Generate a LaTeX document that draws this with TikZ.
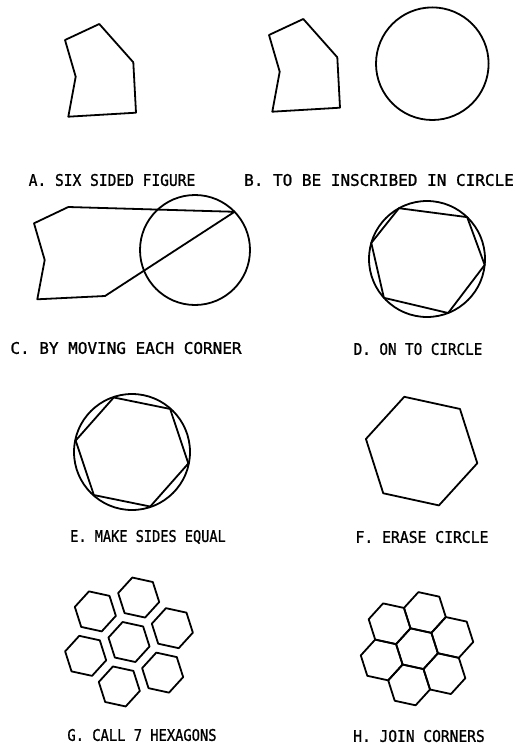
\documentclass[tikz,border=0pt]{standalone}
\usepackage{fontspec}
\newfontfamily\plotfont[FakeBold=1.2]{DejaVu Sans Mono}
\newcommand\hexat[4]{% cx cy r rot
  \draw[fig] ({#1+#3*cos(#4)},{#2-#3*sin(#4)})
    \foreach \k in {1,...,5}{ -- ({#1+#3*cos(#4+60*\k)},{#2-#3*sin(#4+60*\k)}) } -- cycle;}
\newcommand\cluster[5]{% cx cy spacing r rot
  \hexat{#1}{#2}{#4}{#5}
  \foreach \j in {0,...,5}{
    \hexat{#1+#3*cos(#5+30+60*\j)}{#2-#3*sin(#5+30+60*\j)}{#4}{#5}
  }}
\newcommand\sq[2]{\scalebox{#1}[1]{#2}}
\begin{document}
\begin{tikzpicture}[x=1pt,y=-1pt,
  fig/.style={line width=1.8pt, line join=round, line cap=round},
  lbl/.style={font=\plotfont\fontsize{16}{16}\selectfont, inner sep=0pt}]
\useasboundingbox (0,0) rectangle (516,749);
% A
\draw[fig] (65,40) -- (99.3,24) -- (133.3,62.3) -- (136,112.7) -- (68.3,116.7) -- (75.7,76.7) -- cycle;
% B
\draw[fig] (269,35) -- (303.3,19) -- (337.3,57.3) -- (340,107.7) -- (272.3,111.7) -- (279.7,71.7) -- cycle;
\draw[fig] (432.3,63.7) circle[radius=56.3pt];
% C
\draw[fig] (195,250) circle[radius=55pt];
\draw[fig] (34,223.3) -- (68.3,207) -- ({195+55*cos(44)},{250-55*sin(44)}) -- (105,296) -- (37.3,299.3) -- (44.7,260) -- cycle;
% D
\draw[fig] (427,259) circle[radius=58pt];
\draw[fig] ({427+58*cos(118.9)},{259-58*sin(118.9)})
  -- ({427+58*cos(46.2)},{259-58*sin(46.2)})
  -- ({427+58*cos(-5.9)},{259-58*sin(-5.9)})
  -- ({427+58*cos(-68.6)},{259-58*sin(-68.6)})
  -- ({427+58*cos(-138)},{259-58*sin(-138)})
  -- ({427+58*cos(163.9)},{259-58*sin(163.9)}) -- cycle;
% E
\draw[fig] (132,452) circle[radius=58pt];
\hexat{132}{452}{57.5}{-11.5}
% F
\hexat{421.6}{451.1}{57}{-12.3}
% G
\cluster{129}{642}{45.5}{21}{-12.3}
% H
\cluster{417}{648.7}{37.06}{21.4}{-12.3}
% labels
\node[lbl] (la) at (112,180) {\sq{0.91}{A. SIX SIDED FIGURE}};
\node[lbl] (lb) at (379,180) {B. TO BE INSCRIBED IN CIRCLE};
\node[lbl] (lc) at (126,348) {C. BY MOVING EACH CORNER};
\node[lbl] (ld) at (418,349) {\sq{0.89}{D. ON TO CIRCLE}};
\node[lbl] (le) at (148,537) {\sq{0.85}{E. MAKE SIDES EQUAL}};
\node[lbl] (lf) at (422,537) {\sq{0.92}{F. ERASE CIRCLE}};
\node[lbl] (lg) at (142,735) {\sq{0.86}{G. CALL 7 HEXAGONS}};
\node[lbl] (lh) at (419,736) {\sq{0.91}{H. JOIN CORNERS}};
\end{tikzpicture}
\end{document}
